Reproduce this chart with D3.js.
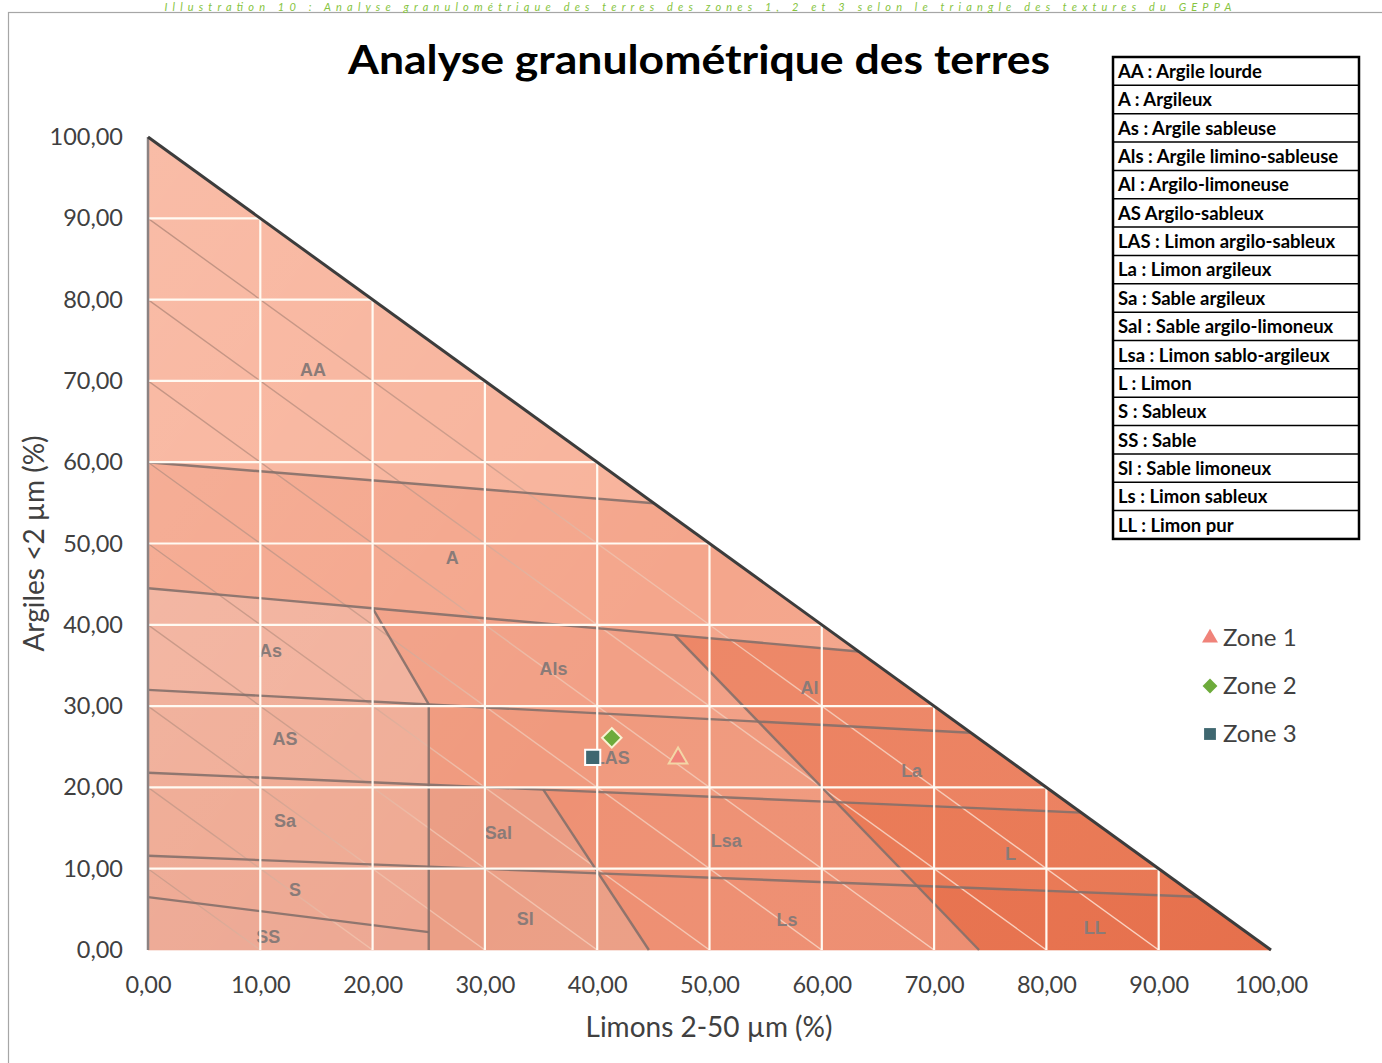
<!DOCTYPE html>
<html>
<head>
<meta charset="utf-8">
<script src="https://cdn.jsdelivr.net/npm/d3@7"></script>
<style>
  html, body { margin: 0; padding: 0; background: #fff; }
  svg { display: block; }
</style>
</head>
<body>
<svg id="chart" width="1382" height="1063"></svg>
<script>
// ---- Data -------------------------------------------------------------
const xTicks = [0, 10, 20, 30, 40, 50, 60, 70, 80, 90, 100];
const yTicks = [0, 10, 20, 30, 40, 50, 60, 70, 80, 90, 100];

// Zones sampled (limons %, argiles %)
const zoneNames   = ["Zone 1", "Zone 2", "Zone 3"];
const zoneLimons  = [47.2, 41.3, 39.6];
const zoneArgiles = [23.6, 26.1, 23.7];

// GEPPA texture classes: code and polygon in (limons %, argiles %)
const classCodes = ["AA", "A", "As", "Als", "Al", "AS", "LAS", "La",
                    "Sa", "Sal", "Lsa", "L", "S", "SS", "Sl", "Ls", "LL"];
const classBounds = [
  [[0, 100], [45.05, 54.95], [0, 60]],
  [[0, 60], [45.05, 54.95], [63.28, 36.72], [46.9, 38.73], [20, 42.04], [0, 44.5]],
  [[0, 44.5], [20, 42.04], [25, 30.2], [0, 32]],
  [[20, 42.04], [46.9, 38.73], [54.35, 28.09], [25, 30.2]],
  [[46.9, 38.73], [63.28, 36.72], [73.28, 26.72], [54.35, 28.09]],
  [[0, 32], [25, 30.2], [25, 20.33], [0, 21.8]],
  [[25, 30.2], [54.35, 28.09], [61.28, 18.19], [35.2, 19.72], [25, 20.33]],
  [[54.35, 28.09], [73.28, 26.72], [83.1, 16.9], [61.28, 18.19]],
  [[0, 21.8], [25, 20.33], [25, 10.25], [0, 11.6]],
  [[25, 20.33], [35.2, 19.72], [40.1, 9.43], [25, 10.25]],
  [[35.2, 19.72], [61.28, 18.19], [68.47, 7.9], [40.1, 9.43]],
  [[61.28, 18.19], [83.1, 16.9], [93.45, 6.55], [68.47, 7.9]],
  [[0, 11.6], [25, 10.25], [25, 2.2], [0, 6.5]],
  [[0, 6.5], [25, 2.2], [25, 0], [0, 0]],
  [[25, 10.25], [40.1, 9.43], [44.6, 0], [25, 0]],
  [[40.1, 9.43], [68.47, 7.9], [74, 0], [44.6, 0]],
  [[68.47, 7.9], [93.45, 6.55], [100, 0], [74, 0]]
];
// where each class code is written (limons %, argiles %)
const classLabelAt = [
  [14.7, 71.4], [27.1, 48.3], [10.9, 36.8], [36.1, 34.6], [58.9, 32.3],
  [12.2, 26.0], [41.3, 23.7], [68.0, 22.1], [12.2, 15.9], [31.2, 14.4],
  [51.5, 13.5], [76.8, 11.9], [13.1, 7.4], [10.7, 1.7], [33.6, 3.9],
  [56.9, 3.7], [84.3, 2.8]
];
// class boundary polylines
const boundaryLines = [
  [[0, 60], [45.05, 54.95]],
  [[0, 44.5], [20, 42.04], [46.9, 38.73], [63.28, 36.72]],
  [[0, 32], [25, 30.2], [54.35, 28.09], [73.28, 26.72]],
  [[0, 21.8], [25, 20.33], [35.2, 19.72], [61.28, 18.19], [83.1, 16.9]],
  [[0, 11.6], [25, 10.25], [40.1, 9.43], [68.47, 7.9], [93.45, 6.55]],
  [[0, 6.5], [25, 2.2]],
  [[20, 42.04], [25, 30.2]],
  [[25, 30.2], [25, 0]],
  [[35.2, 19.72], [44.6, 0]],
  [[46.9, 38.73], [74, 0]]
];
// sand iso-lines (limons + argiles = constant)
const sandSums = [10, 20, 30, 40, 50, 60, 70, 80, 90];

const textureLegend = [
  "AA : Argile lourde", "A : Argileux", "As : Argile sableuse",
  "Als : Argile limino-sableuse", "Al : Argilo-limoneuse", "AS Argilo-sableux",
  "LAS : Limon argilo-sableux", "La : Limon argileux", "Sa : Sable argileux",
  "Sal : Sable argilo-limoneux", "Lsa : Limon sablo-argileux", "L : Limon",
  "S : Sableux", "SS : Sable", "Sl : Sable limoneux", "Ls : Limon sableux",
  "LL : Limon pur"
];

// ---- Styles -----------------------------------------------------------
const classFill = {
  AA: "#f8b39b", A: "#f4a68c", As: "#f2b19c", Als: "#f2a086", Al: "#ed8767",
  AS: "#f0ad97", LAS: "#f09a7e", La: "#ec8261", Sa: "#efaa93", Sal: "#eb9d84",
  Lsa: "#ee9174", L: "#ea7a56", S: "#eea892", SS: "#eda893", Sl: "#eb9f86",
  Ls: "#ee8f72", LL: "#e8734f"
};
const zoneStyle = [
  { type: d3.symbolTriangle, fill: "#f0837a", stroke: "#f3d6a6", rot: 0 },
  { type: d3.symbolSquare,   fill: "#6dab3b", stroke: "#f8f3d2", rot: 45 },
  { type: d3.symbolSquare,   fill: "#3f6770", stroke: "#ffffff", rot: 0 }
];
const FONT = "Lato, 'Open Sans', sans-serif";

// ---- Layout -----------------------------------------------------------
const svg = d3.select("#chart");
const x = d3.scaleLinear().domain([0, 100]).range([148, 1271]);
const y = d3.scaleLinear().domain([0, 100]).range([950, 137]);
const line = d3.line().x(d => x(d[0])).y(d => y(d[1]));

// outer frame and caption above it
svg.append("rect").attr("x", 8.5).attr("y", 12.5).attr("width", 1390).attr("height", 1070)
  .attr("fill", "#fff").attr("stroke", "#a6a6a6").attr("stroke-width", 1.2);
svg.append("text")
  .attr("x", 698).attr("y", 11).attr("text-anchor", "middle")
  .attr("font-family", FONT).attr("font-style", "italic").attr("font-size", 11)
  .attr("textLength", 1067).attr("lengthAdjust", "spacing")
  .attr("fill", "#86c440")
  .text("Illustration 10 : Analyse granulométrique des terres des zones 1, 2 et 3 selon le triangle des textures du GEPPA");

const defs = svg.append("defs");
const triangle = [[0, 100], [100, 0], [0, 0]];
defs.append("clipPath").attr("id", "tri")
  .append("path").attr("d", line(triangle) + "Z");

const g = defs.append("linearGradient").attr("id", "isoGrad")
  .attr("gradientUnits", "userSpaceOnUse")
  .attr("x1", x(0)).attr("y1", y(100)).attr("x2", x(100)).attr("y2", y(0));
[[0, "#bf9080"], [0.33, "#cf9e8c"], [0.45, "#f0bda8"], [1, "#fcd6c5"]]
  .forEach(([o, c]) => g.append("stop").attr("offset", o).attr("stop-color", c));

const soft = defs.append("linearGradient").attr("id", "soft")
  .attr("gradientUnits", "userSpaceOnUse")
  .attr("x1", x(0)).attr("y1", y(100)).attr("x2", x(100)).attr("y2", y(0));
[[0, "#ffffff", 0.12], [0.5, "#ffffff", 0.0], [1, "#c04020", 0.06]]
  .forEach(([o, c, a]) => soft.append("stop").attr("offset", o).attr("stop-color", c).attr("stop-opacity", a));

const plot = svg.append("g");

// texture classes
plot.selectAll("path.cls").data(classCodes).join("path")
  .attr("class", "cls")
  .attr("d", (c, i) => line(classBounds[i]) + "Z")
  .attr("fill", c => classFill[c])
  .attr("stroke", c => classFill[c]).attr("stroke-width", 0.6);

plot.append("path").attr("d", line(triangle) + "Z").attr("fill", "url(#soft)");

// sand iso-lines
plot.append("g").attr("clip-path", "url(#tri)")
  .selectAll("path").data(sandSums).join("path")
  .attr("d", s => line([[0, s], [s, 0]]))
  .attr("stroke", "url(#isoGrad)").attr("stroke-width", 1.4).attr("fill", "none");

// class boundaries
plot.append("g").selectAll("path").data(boundaryLines).join("path")
  .attr("d", d => line(d))
  .attr("fill", "none").attr("stroke", "#85706a").attr("stroke-width", 2.4)
  .attr("stroke-opacity", 0.9);

// class codes
plot.append("g").selectAll("text").data(classCodes).join("text")
  .attr("x", (c, i) => x(classLabelAt[i][0]))
  .attr("y", (c, i) => y(classLabelAt[i][1]))
  .attr("text-anchor", "middle").attr("dy", "0.36em")
  .attr("font-family", "'Liberation Sans', Arial, sans-serif").attr("font-weight", "bold")
  .attr("font-size", 18).attr("fill", "#8a7b78")
  .text(c => c);

// white grid over the triangle
const grid = plot.append("g").attr("clip-path", "url(#tri)")
  .attr("stroke", "#fffaf2").attr("stroke-width", 2.2);
grid.selectAll("line.v").data(xTicks.slice(1, -1)).join("line").attr("class", "v")
  .attr("x1", d => x(d)).attr("x2", d => x(d)).attr("y1", y(0)).attr("y2", y(100));
grid.selectAll("line.h").data(yTicks.slice(1, -1)).join("line").attr("class", "h")
  .attr("x1", x(0)).attr("x2", x(100)).attr("y1", d => y(d)).attr("y2", d => y(d));

// triangle edges
plot.append("path").attr("d", line([[0, 0], [0, 100]]))
  .attr("stroke", "#8c8282").attr("stroke-width", 2.5).attr("fill", "none");
plot.append("path").attr("d", line([[0, 100], [100, 0]]))
  .attr("stroke", "#3c3c3c").attr("stroke-width", 3).attr("fill", "none");

// axes
const fmt = d => d3.format(".2f")(d).replace(".", ",");
const yAxis = svg.append("g").attr("transform", `translate(${x(0)},0)`)
  .call(d3.axisLeft(y).tickValues(yTicks).tickFormat(fmt).tickSize(0).tickPadding(25));
const xAxis = svg.append("g").attr("transform", `translate(0,${y(0)})`)
  .call(d3.axisBottom(x).tickValues(xTicks).tickFormat(fmt).tickSize(0).tickPadding(26));
[yAxis, xAxis].forEach(a => {
  a.select(".domain").remove();
  a.selectAll("text").attr("font-family", FONT).attr("font-size", 23.5).attr("fill", "#404040");
});

svg.append("text")
  .attr("transform", `translate(44,${(y(0) + y(100)) / 2}) rotate(-90)`)
  .attr("text-anchor", "middle")
  .attr("font-family", FONT).attr("font-size", 28).attr("fill", "#404040")
  .text("Argiles <2 µm (%)");
svg.append("text")
  .attr("x", 709).attr("y", 1037).attr("text-anchor", "middle")
  .attr("font-family", FONT).attr("font-size", 28).attr("fill", "#404040")
  .text("Limons 2-50 µm (%)");

// title
svg.append("text")
  .attr("x", 699).attr("y", 74).attr("text-anchor", "middle")
  .attr("font-family", FONT).attr("font-weight", "bold").attr("font-size", 40)
  .attr("textLength", 702).attr("lengthAdjust", "spacingAndGlyphs")
  .attr("fill", "#000")
  .text("Analyse granulométrique des terres");

// zone samples
const sym = (t, s) => d3.symbol().type(t).size(s)();
svg.append("g").selectAll("path").data(zoneNames).join("path")
  .attr("transform", (z, i) => `translate(${x(zoneLimons[i])},${y(zoneArgiles[i])}) rotate(${zoneStyle[i].rot})`)
  .attr("d", (z, i) => sym(zoneStyle[i].type, i === 0 ? 150 : i === 1 ? 190 : 230))
  .attr("fill", (z, i) => zoneStyle[i].fill)
  .attr("stroke", (z, i) => zoneStyle[i].stroke).attr("stroke-width", 2);

// zone legend
const zl = svg.append("g");
zoneNames.forEach((z, i) => {
  const cy = 638 + i * 48;
  zl.append("path")
    .attr("transform", `translate(1210,${cy}) rotate(${zoneStyle[i].rot})`)
    .attr("d", sym(zoneStyle[i].type, i === 0 ? 110 : i === 1 ? 110 : 140))
    .attr("fill", zoneStyle[i].fill);
  zl.append("text").attr("x", 1223).attr("y", cy + 8)
    .attr("font-family", FONT).attr("font-size", 24).attr("fill", "#404040")
    .text(z);
});

// texture legend table
const tx0 = 1113, tx1 = 1359, ty0 = 57, rowH = 28.35;
const tbl = svg.append("g");
tbl.selectAll("line").data(d3.range(1, textureLegend.length)).join("line")
  .attr("x1", tx0).attr("x2", tx1)
  .attr("y1", i => ty0 + i * rowH).attr("y2", i => ty0 + i * rowH)
  .attr("stroke", "#000").attr("stroke-width", 1.5);
tbl.append("rect").attr("x", tx0).attr("y", ty0)
  .attr("width", tx1 - tx0).attr("height", rowH * textureLegend.length)
  .attr("fill", "none").attr("stroke", "#000").attr("stroke-width", 2.5);
tbl.selectAll("text").data(textureLegend).join("text")
  .attr("x", tx0 + 5).attr("y", (d, i) => ty0 + i * rowH + 21)
  .attr("font-family", FONT).attr("font-weight", "bold").attr("font-size", 18.5)
  .attr("fill", "#000")
  .text(d => d);
</script>
</body>
</html>
